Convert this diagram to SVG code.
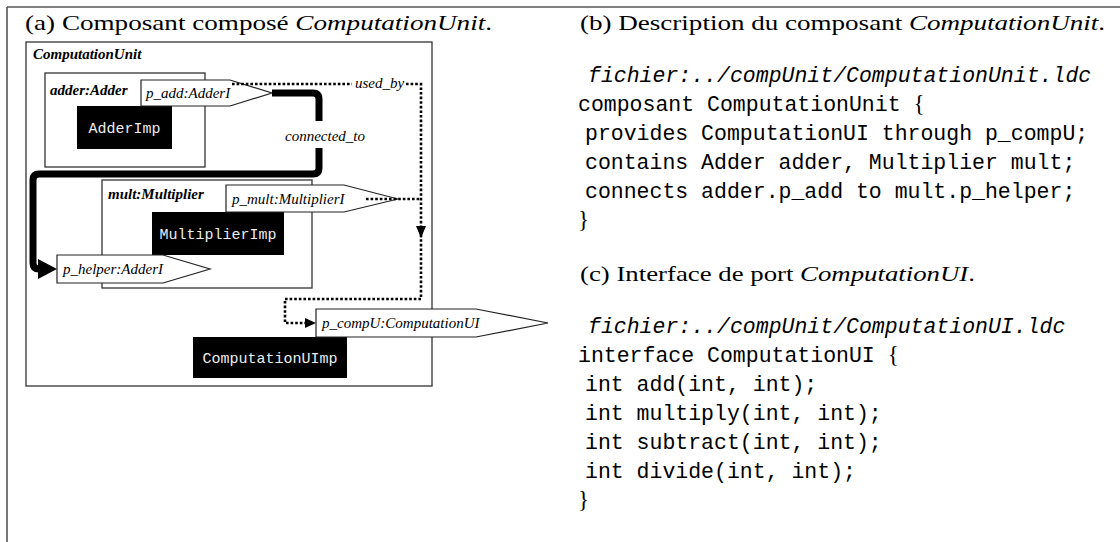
<svg xmlns="http://www.w3.org/2000/svg" width="1120" height="542" viewBox="0 0 1120 542">
<defs>
<style>
.frame{stroke:#555;stroke-width:1.6;fill:none}
.box{fill:none;stroke:#333;stroke-width:1.3}
.port{fill:#fff;stroke:#222;stroke-width:1.2}
.imp{fill:#000}
.impt{font-family:"Liberation Mono",monospace;font-size:15px;fill:#eee;text-anchor:middle}
.bi{font-family:"Liberation Serif",serif;font-size:15px;font-weight:bold;font-style:italic;fill:#000}
.it{font-family:"Liberation Serif",serif;font-size:15px;font-style:italic;fill:#000}
.thick{fill:none;stroke:#000;stroke-width:7}
.dot{fill:none;stroke:#000;stroke-width:2.6;stroke-dasharray:2.6 2}
.ttl{font-family:"Liberation Serif",serif;font-size:22px;fill:#000}
.code{font-family:"Liberation Mono",monospace;font-size:21.5px;fill:#000}
.codei{font-family:"Liberation Mono",monospace;font-size:21.5px;font-style:italic;fill:#000}
.br{font-family:"Liberation Serif",serif;font-size:23px}
</style>
</defs>
<path class="frame" d="M7,7 H1120 M7,7 V542"/>

<text class="ttl" x="25" y="30" textLength="467" lengthAdjust="spacingAndGlyphs">(a) Composant composé <tspan font-style="italic">ComputationUnit</tspan>.</text>

<g id="computationUnit">
<rect class="box" x="26" y="42" width="406" height="344"/>
<text class="bi" x="33" y="59">ComputationUnit</text>
</g>

<g id="adder">
<rect class="box" x="45" y="73" width="160" height="94"/>
<text class="bi" x="50" y="95">adder:Adder</text>
</g>
<g id="adderImp">
<rect class="imp" x="77" y="106" width="95" height="43"/>
<text class="impt" x="124.5" y="133">AdderImp</text>
</g>
<g id="p_add">
<polygon class="port" points="141,80 230,80 272,93 230,106 141,106"/>
<text class="it" x="146" y="98">p_add:AdderI</text>
</g>

<g id="mult">
<rect class="box" x="102" y="180" width="210" height="108"/>
<text class="bi" x="108" y="199">mult:Multiplier</text>
</g>
<g id="multiplierImp">
<rect class="imp" x="152" y="212" width="132" height="43"/>
<text class="impt" x="218" y="239">MultiplierImp</text>
</g>
<g id="p_mult">
<polygon class="port" points="226,185 344,185 398,199 344,212 226,212"/>
<text class="it" x="232" y="204">p_mult:MultiplierI</text>
</g>
<g id="p_helper">
<polygon class="port" points="57,255 163,255 210,269 163,283 57,283"/>
<text class="it" x="63" y="274">p_helper:AdderI</text>
</g>

<g id="computationUImp">
<rect class="imp" x="193" y="337" width="154" height="41"/>
<text class="impt" x="270" y="363">ComputationUImp</text>
</g>
<g id="p_compU">
<polygon class="port" points="316,309 476,309 548,323 476,337 316,337"/>
<text class="it" x="322" y="328">p_compU:ComputationUI</text>
</g>

<g id="connectors">
<path class="thick" d="M272,93 H313 Q319,93 319,99 V121"/>
<path class="thick" d="M319,148 V168 Q319,174 313,174 H39 Q33,174 33,180 V263 Q33,269 39,269 H42"/>
<polygon points="38,259 57,269 38,279" fill="#000"/>
<text class="it" x="325" y="141" text-anchor="middle">connected_to</text>

<path class="dot" d="M232,84 H352"/>
<text class="it" x="355" y="88">used_by</text>
<path class="dot" d="M406,84 H421 V299 H285 V323 H305"/>
<path class="dot" d="M366,199 H421"/>
<polygon points="416,226 426,226 421,238" fill="#000"/>
<polygon points="305,318 316,323 305,328" fill="#000"/>
</g>

<g id="descriptions">
<text class="ttl" x="580" y="30" textLength="525" lengthAdjust="spacingAndGlyphs">(b) Description du composant <tspan font-style="italic">ComputationUnit</tspan>.</text>
<text class="codei" x="588" y="82">fichier:../compUnit/ComputationUnit.ldc</text>
<text class="code" x="578" y="111">composant ComputationUnit <tspan class="br">{</tspan></text>
<text class="code" x="585" y="140">provides ComputationUI through p_compU;</text>
<text class="code" x="585" y="169">contains Adder adder, Multiplier mult;</text>
<text class="code" x="585" y="198">connects adder.p_add to mult.p_helper;</text>
<text class="br" x="578" y="227">}</text>

<text class="ttl" x="580" y="281" textLength="395" lengthAdjust="spacingAndGlyphs">(c) Interface de port <tspan font-style="italic">ComputationUI</tspan>.</text>
<text class="codei" x="588" y="333">fichier:../compUnit/ComputationUI.ldc</text>
<text class="code" x="578" y="362">interface ComputationUI <tspan class="br">{</tspan></text>
<text class="code" x="585" y="391">int add(int, int);</text>
<text class="code" x="585" y="420">int multiply(int, int);</text>
<text class="code" x="585" y="449">int subtract(int, int);</text>
<text class="code" x="585" y="478">int divide(int, int);</text>
<text class="br" x="578" y="507">}</text>
</g>
</svg>
